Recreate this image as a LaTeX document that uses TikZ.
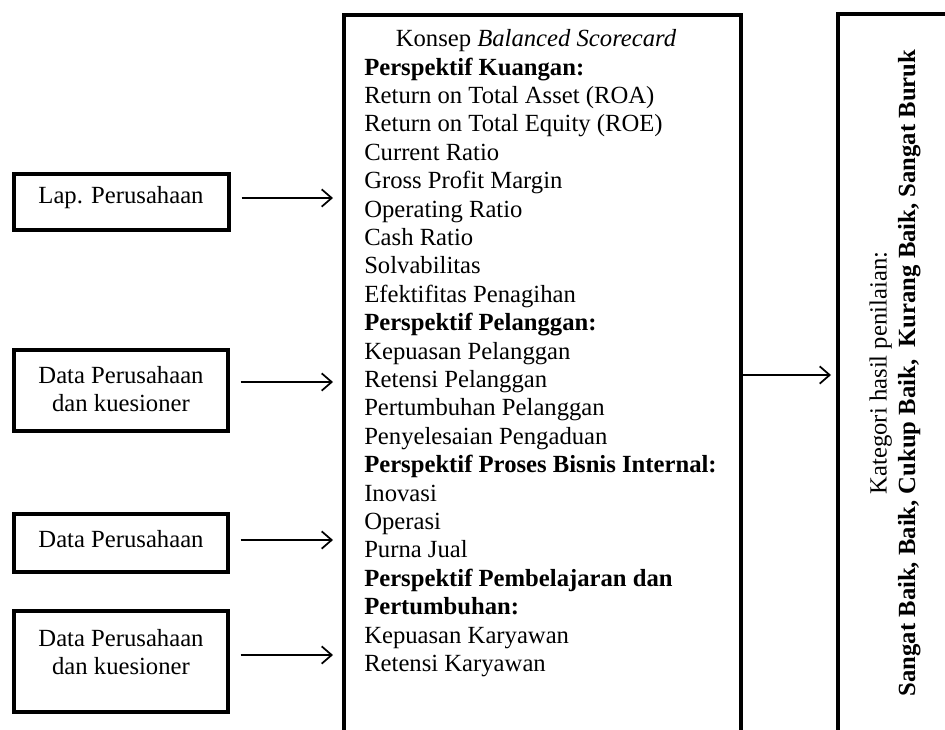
\documentclass[tikz,border=0pt]{standalone}
\usepackage{fontspec}
\setmainfont{Liberation Serif}
\usetikzlibrary{arrows.meta,fit,calc}
\begin{document}
\begin{tikzpicture}[x=0.75pt,y=-0.75pt,
  frame/.style={draw, line width=3pt, inner sep=0pt},
  txt/.style={font=\fontsize{18.5}{21.3}\selectfont, inner sep=0pt, align=center},
  arr/.style={line width=1.3pt, -{Straight Barb[length=7.5pt,width=13pt]}},
]
\useasboundingbox (0,0) rectangle (945,729);
\clip (0,0) rectangle (945,729);
% left boxes
\node[frame, fit={(14,174)(229,230)}] (b1) {};
\node[frame, fit={(14,350)(228,431)}] (b2) {};
\node[frame, fit={(14,514)(228,572)}] (b3) {};
\node[frame, fit={(14,611)(228,712)}] (b4) {};
\node[txt] (t1) at (121,198) {Lap. Perusahaan};
\node[txt] (t2) at (121,389) {Data Perusahaan\\dan kuesioner};
\node[txt] (t3) at (121,539) {Data Perusahaan};
\node[txt] (t4) at (121,652) {Data Perusahaan\\dan kuesioner};
% central box
\node[frame, fit={(344,15)(741,780)}] (bsc) {};
\node[txt, anchor=base] (title) at (536,46.4) {Konsep \textit{Balanced Scorecard}};
\node[txt, align=left, anchor=north west] (list) at (364,57.5) {%
\textbf{Perspektif Kuangan:}\\
Return on Total Asset (ROA)\\
Return on Total Equity (ROE)\\
Current Ratio\\
Gross Profit Margin\\
Operating Ratio\\
Cash Ratio\\
Solvabilitas\\
Efektifitas Penagihan\\
\textbf{Perspektif Pelanggan:}\\
Kepuasan Pelanggan\\
Retensi Pelanggan\\
Pertumbuhan Pelanggan\\
Penyelesaian Pengaduan\\
\textbf{Perspektif Proses Bisnis Internal:}\\
Inovasi\\
Operasi\\
Purna Jual\\
\textbf{Perspektif Pembelajaran dan}\\
\textbf{Pertumbuhan:}\\
Kepuasan Karyawan\\
Retensi Karyawan};
% right box
\node[frame, fit={(838,14)(990,780)}] (res) {};
\node[txt, rotate=90] (cat) at (895,373) {Kategori hasil penilaian:\\\textbf{Sangat Baik, Baik, Cukup Baik,\ \ Kurang Baik, Sangat Buruk}};
% arrows
\coordinate (y1) at (0,198);
\coordinate (y2) at (0,382);
\coordinate (y3) at (0,540);
\coordinate (y4) at (0,655);
\coordinate (y5) at (0,375);
\draw[arr, shorten <=8pt, shorten >=6.75pt] (b1.east |- y1) -- (bsc.west |- y1);
\draw[arr, shorten <=8pt, shorten >=6.75pt] (b2.east |- y2) -- (bsc.west |- y2);
\draw[arr, shorten <=8pt, shorten >=6.75pt] (b3.east |- y3) -- (bsc.west |- y3);
\draw[arr, shorten <=8pt, shorten >=6.75pt] (b4.east |- y4) -- (bsc.west |- y4);
\draw[arr, shorten >=3.75pt] (bsc.east |- y5) -- (res.west |- y5);
\end{tikzpicture}
\end{document}
